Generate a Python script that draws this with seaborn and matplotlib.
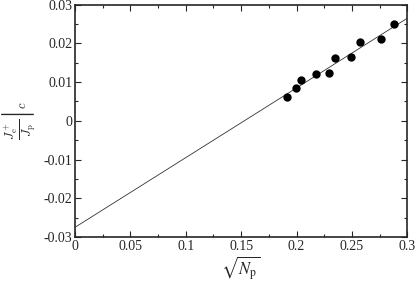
import matplotlib
matplotlib.use("Agg")
import matplotlib.pyplot as plt
import seaborn as sns
import pandas as pd
from matplotlib.ticker import MultipleLocator

# data
sqrt_np = [0.1917, 0.1995, 0.2038, 0.2173, 0.2290, 0.2347, 0.2492, 0.2576, 0.2765, 0.2877]
ratio = [0.0062, 0.0085, 0.0105, 0.0122, 0.0123, 0.0163, 0.0166, 0.0204, 0.0211, 0.0251]
fit_x = [0.0, 0.3]
fit_y = [-0.0275, 0.0265]

points = pd.DataFrame({"x": sqrt_np, "y": ratio})
fit = pd.DataFrame({"x": fit_x, "y": fit_y})

sns.set_style("ticks")
plt.rcParams["font.family"] = ["Liberation Serif", "DejaVu Serif"]
plt.rcParams["mathtext.fontset"] = "stix"

fig = plt.figure(figsize=(4.15, 2.86), dpi=100)
ax = fig.add_axes([0.1807, 0.1713, 0.8007, 0.8123])

sns.lineplot(data=fit, x="x", y="y", ax=ax, color="#333333", linewidth=0.6)
sns.scatterplot(data=points, x="x", y="y", ax=ax, color="black", s=36,
                edgecolor="black", linewidth=0, zorder=3)

ax.set_xlim(0, 0.3)
ax.set_ylim(-0.03, 0.03)
ax.xaxis.set_minor_locator(MultipleLocator(0.025))
ax.yaxis.set_minor_locator(MultipleLocator(0.005))
ax.set_xticks([0, 0.05, 0.1, 0.15, 0.2, 0.25, 0.3])
ax.set_xticklabels(["0", "0.05", "0.1", "0.15", "0.2", "0.25", "0.3"])
ax.set_yticks([-0.03, -0.02, -0.01, 0, 0.01, 0.02, 0.03])
ax.set_yticklabels(["-0.03", "-0.02", "-0.01", "0", "0.01", "0.02", "0.03"])

ax.tick_params(which="both", direction="in", top=True, right=True,
               labelsize=10, width=0.8, pad=2)
ax.tick_params(which="major", length=4)
ax.tick_params(which="minor", length=2)
for sp in ax.spines.values():
    sp.set_linewidth(1.2)
    sp.set_visible(True)

ax.set_xlabel(r"$\sqrt{N_\mathrm{p}}$", fontsize=12, labelpad=1)
ax.set_ylabel(r"$\left.\frac{J_\mathrm{e}^+}{J_\mathrm{p}}\right|_c$", fontsize=13,
              labelpad=3, math_fontfamily="cm")

fig.savefig("out.png", dpi=100)
